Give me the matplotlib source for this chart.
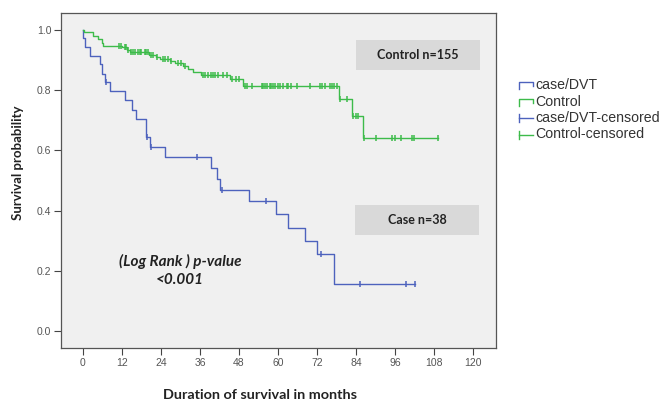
import numpy as np
import matplotlib
matplotlib.use("Agg")
import matplotlib.pyplot as plt
from matplotlib.patches import Rectangle
from matplotlib.lines import Line2D

# ---------------- data ----------------
case_event_times = [0, 0.7, 2.1, 5.1, 5.8, 6.7, 8.2, 13.0, 15.1, 16.4, 19.3, 20.6,
                    25.2, 39.3, 41.1, 42.2, 51.2, 59.3, 63.2, 68.3, 72.1, 77.2]
case_survival = [0.973, 0.943, 0.913, 0.886, 0.853, 0.825, 0.797, 0.767, 0.733, 0.704,
                 0.645, 0.612, 0.578, 0.540, 0.504, 0.469, 0.432, 0.388, 0.344, 0.301,
                 0.257, 0.156]
case_censor_times = [7.2, 19.8, 20.8, 35.2, 42.8, 56.2, 73.1, 85.2, 99.3, 102.2]

control_event_times = [0.4, 3.2, 4.7, 5.7, 6.3, 11.9, 13.4, 14.5, 20.4, 22.6, 23.7,
                       26.8, 28.3, 30.9, 32.4, 33.9, 36.2, 45.2, 49.3, 78.8, 82.9, 86.1]
control_survival = [0.991, 0.978, 0.968, 0.956, 0.945, 0.941, 0.934, 0.927, 0.916,
                    0.908, 0.901, 0.895, 0.889, 0.879, 0.870, 0.861, 0.850, 0.836,
                    0.813, 0.770, 0.714, 0.641]
control_censor_times = [11.0, 11.6, 12.8, 13.3, 13.8, 14.9, 15.4, 16.1, 16.9, 17.4, 17.9,
                        19.0, 19.5, 20.0, 20.9, 21.5, 22.9, 24.5, 25.1, 26.2, 27.2, 29.2,
                        30.2, 31.5, 37.0, 37.6, 38.5, 39.4, 40.0, 40.6, 41.5, 43.0, 44.2,
                        46.0, 47.0, 48.0, 50.0, 50.5, 52.0, 55.0, 55.5, 56.0, 56.6, 57.5,
                        58.0, 58.6, 59.1, 60.0, 60.6, 61.5, 62.7, 63.2, 64.0, 65.8, 69.8,
                        72.9, 73.5, 74.5, 76.0, 76.6, 77.2, 78.1, 79.2, 81.1, 83.2, 83.9,
                        84.7, 86.4, 90.2, 95.2, 96.0, 98.0, 101.2, 102.0, 109.3]

x_ticks = [0, 12, 24, 36, 48, 60, 72, 84, 96, 108, 120]
y_ticks = [0.0, 0.2, 0.4, 0.6, 0.8, 1.0]
legend_labels = ["case/DVT", "Control", "case/DVT-censored", "Control-censored"]

BLUE = "#4d62bd"
GREEN = "#3dbb4a"

W, H = 664, 401
fig = plt.figure(figsize=(W / 100, H / 100), dpi=100)
fig.patch.set_facecolor("white")

def fx(px):
    return px / W

def fy(py):
    return 1 - py / H

ax = fig.add_axes([fx(61), fy(348), fx(496) - fx(61), fy(13) - fy(348)])
ax.set_facecolor("#f0f0f0")
ax.set_xlim(-6.77, 127.1)
ax.set_ylim(-0.055, 1.055)


def km_curve(event_times, survival, censor_times):
    t = np.concatenate([[0.0], np.asarray(event_times, float)])
    s = np.concatenate([[1.0], np.asarray(survival, float)])
    end = max(max(censor_times), t[-1])
    t_full = np.concatenate([t, [end]])
    s_full = np.concatenate([s, [s[-1]]])
    idx = np.searchsorted(t, np.asarray(censor_times), side="right") - 1
    return t_full, s_full, np.asarray(censor_times), s[idx]


for ev, sv, cens, col in [
    (case_event_times, case_survival, case_censor_times, BLUE),
    (control_event_times, control_survival, control_censor_times, GREEN),
]:
    tt, ss, ct, cs = km_curve(ev, sv, cens)
    ax.step(tt, ss, where="post", color=col, lw=1.0, zorder=3)
    ax.plot(ct, cs, ls="none", marker="|", ms=5.0, mew=1.1, color=col, zorder=4)

ax.set_xticks(x_ticks)
ax.set_yticks(y_ticks)
ax.set_xticklabels([str(v) for v in x_ticks])
ax.set_yticklabels([f"{v:.1f}" for v in y_ticks])
ax.tick_params(axis="both", direction="out", length=5, width=0.8, color="#444444",
               labelsize=7.5, labelcolor="#555555", pad=2)
for lab in ax.get_xticklabels() + ax.get_yticklabels():
    lab.set_fontfamily("Liberation Sans")
for sp in ax.spines.values():
    sp.set_color("#555555")
    sp.set_linewidth(0.9)

# annotation boxes
bold_font = "Lato"
ax.add_patch(Rectangle((84.0, 0.866), 38.2, 0.099, facecolor="#d9d9d9",
                       edgecolor="none", zorder=2))
ax.text(103.1, 0.9155, "Control n=155", ha="center", va="center", fontsize=9,
        fontweight="bold", family=bold_font, color="#222222", zorder=5)
ax.add_patch(Rectangle((83.7, 0.319), 38.1, 0.100, facecolor="#d9d9d9",
                       edgecolor="none", zorder=2))
ax.text(102.75, 0.369, "Case n=38", ha="center", va="center", fontsize=9,
        fontweight="bold", family=bold_font, color="#222222", zorder=5)

ax.text(29.8, 0.231, "(Log Rank ) p-value", ha="center", va="center", fontsize=11,
        fontweight="bold", style="italic", family=bold_font, color="#222222")
ax.text(29.8, 0.171, "<0.001", ha="center", va="center", fontsize=11,
        fontweight="bold", style="italic", family=bold_font, color="#222222")

fig.text(fx(260), fy(395), "Duration of survival in months", ha="center", va="center",
         fontsize=10.4, fontweight="bold", family=bold_font, color="#222222")
fig.text(fx(18), fy(163), "Survival probability", ha="center", va="center",
         rotation=90, fontsize=9.5, fontweight="bold", family=bold_font, color="#222222")

# legend (drawn manually to mimic SPSS symbols)
rows = [85, 101.5, 118, 134.5]
cols = [BLUE, GREEN, BLUE, GREEN]
for i, (lab, yc, c) in enumerate(zip(legend_labels, rows, cols)):
    if i < 2:
        xs = [fx(519), fx(519), fx(533), fx(533)]
        ys = [fy(yc + 4), fy(yc - 3), fy(yc - 3), fy(yc + 1)]
        fig.add_artist(Line2D(xs, ys, color=c, lw=1.0, transform=fig.transFigure))
    else:
        fig.add_artist(Line2D([fx(519), fx(519)], [fy(yc - 4), fy(yc + 4)], color=c,
                              lw=1.0, transform=fig.transFigure))
        fig.add_artist(Line2D([fx(519), fx(533)], [fy(yc), fy(yc)], color=c,
                              lw=1.0, transform=fig.transFigure))
    fig.text(fx(535), fy(yc), lab, ha="left", va="center", fontsize=10.2,
             family="Liberation Sans", color="#333333")

fig.savefig("out.png", dpi=100, facecolor="white")
